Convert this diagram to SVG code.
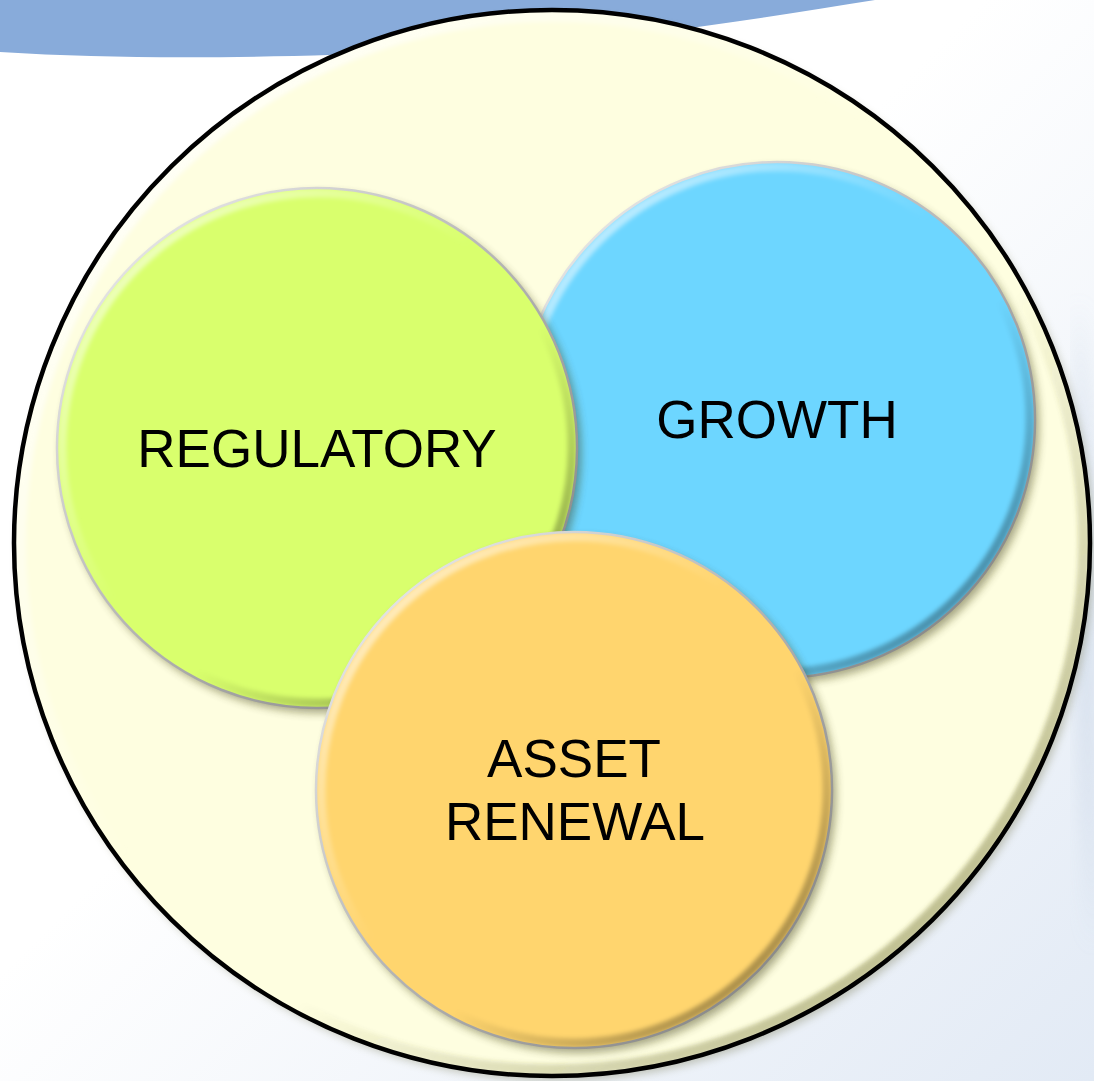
<svg xmlns="http://www.w3.org/2000/svg" width="1094" height="1081" viewBox="0 0 1094 1081">
  <style>
    .label { font-family: "Liberation Sans", Arial, sans-serif; font-size: 53px; fill: #000; text-anchor: middle; }
    .rim { fill: none; stroke-width: 2.5; }
  </style>
  <defs>
    <filter id="soft" x="-20%" y="-20%" width="140%" height="140%">
      <feGaussianBlur stdDeviation="4"/>
    </filter>
    <filter id="soft2" x="-20%" y="-20%" width="140%" height="140%">
      <feGaussianBlur stdDeviation="2"/>
    </filter>
    <filter id="haze" x="-50%" y="-50%" width="200%" height="200%">
      <feGaussianBlur stdDeviation="10"/>
    </filter>
    <!-- bevel: light top-left, dark bottom-right -->
    <linearGradient id="bevel" x1="0" y1="0" x2="1" y2="1">
      <stop offset="0" stop-color="#ffffff" stop-opacity="0.75"/>
      <stop offset="0.45" stop-color="#ffffff" stop-opacity="0"/>
      <stop offset="0.6" stop-color="#000000" stop-opacity="0"/>
      <stop offset="1" stop-color="#000000" stop-opacity="0.5"/>
    </linearGradient>
    <linearGradient id="rimGrad" x1="0" y1="0" x2="1" y2="1">
      <stop offset="0" stop-color="#f4f4f4"/>
      <stop offset="0.5" stop-color="#b4b4b4"/>
      <stop offset="1" stop-color="#7a7a7a"/>
    </linearGradient>
    <linearGradient id="outerBevel" x1="0" y1="0" x2="1" y2="1">
      <stop offset="0" stop-color="#ffffff" stop-opacity="1"/>
      <stop offset="0.45" stop-color="#ffffff" stop-opacity="0"/>
      <stop offset="0.6" stop-color="#6b6b2a" stop-opacity="0"/>
      <stop offset="1" stop-color="#6b6b2a" stop-opacity="0.65"/>
    </linearGradient>
    <linearGradient id="bgRight" x1="0" y1="0" x2="1" y2="1">
      <stop offset="0.45" stop-color="#ffffff"/>
      <stop offset="1" stop-color="#e2eaf5"/>
    </linearGradient>
    <clipPath id="clipG"><circle cx="317" cy="448" r="260"/></clipPath>
    <clipPath id="clipB"><circle cx="777" cy="420" r="258"/></clipPath>
    <clipPath id="clipO"><circle cx="574" cy="790" r="258"/></clipPath>
    <clipPath id="clipOuter"><ellipse cx="552" cy="543" rx="538" ry="533"/></clipPath>
  </defs>

  <!-- backdrop -->
  <rect width="1094" height="1081" fill="url(#bgRight)"/>
  <path d="M1078 300 C1092 420 1094 600 1094 700 L1094 950 C1086 860 1080 760 1078 640 Z" fill="#c9d6e6" filter="url(#haze)" opacity="0.8"/>
  <path d="M0 0 L875 0 C750 20 600 45 420 52 C260 58 130 60 0 52 Z" fill="#88abda"/>

  <!-- outer container -->
  <g id="container">
    <ellipse cx="556" cy="548" rx="538" ry="533" fill="#6b6b40" opacity="0.35" filter="url(#soft)"/>
    <ellipse cx="552" cy="543" rx="538" ry="533" fill="#fefee0"/>
    <ellipse cx="552" cy="543" rx="532" ry="527" fill="none" stroke="url(#outerBevel)" stroke-width="12" filter="url(#soft2)" clip-path="url(#clipOuter)"/>
    <ellipse cx="552" cy="543" rx="538" ry="533" fill="none" stroke="#000" stroke-width="4.5"/>
  </g>

  <!-- growth -->
  <g id="node-growth">
    <circle cx="781" cy="425" r="258" fill="#3a3a10" opacity="0.45" filter="url(#soft)"/>
    <circle cx="777" cy="420" r="258" fill="#6dd6ff"/>
    <circle cx="777" cy="420" r="253" fill="none" stroke="url(#bevel)" stroke-width="9" filter="url(#soft2)" clip-path="url(#clipB)"/>
    <circle class="rim" cx="777" cy="420" r="258" stroke="url(#rimGrad)"/>
    <text class="label" x="777" y="438">GROWTH</text>
  </g>

  <!-- regulatory -->
  <g id="node-regulatory">
    <circle cx="321" cy="453" r="260" fill="#3a3a10" opacity="0.45" filter="url(#soft)"/>
    <circle cx="317" cy="448" r="260" fill="#d9ff6d"/>
    <circle cx="317" cy="448" r="255" fill="none" stroke="url(#bevel)" stroke-width="9" filter="url(#soft2)" clip-path="url(#clipG)"/>
    <circle class="rim" cx="317" cy="448" r="260" stroke="url(#rimGrad)"/>
    <text class="label" x="317" y="467">REGULATORY</text>
  </g>

  <!-- asset renewal -->
  <g id="node-asset-renewal">
    <circle cx="578" cy="795" r="258" fill="#3a3a10" opacity="0.45" filter="url(#soft)"/>
    <circle cx="574" cy="790" r="258" fill="#ffd56e"/>
    <circle cx="574" cy="790" r="253" fill="none" stroke="url(#bevel)" stroke-width="9" filter="url(#soft2)" clip-path="url(#clipO)"/>
    <circle class="rim" cx="574" cy="790" r="258" stroke="url(#rimGrad)"/>
    <text class="label" x="574" y="777">ASSET</text>
    <text class="label" x="575" y="840">RENEWAL</text>
  </g>

  <g id="connectors"/>
</svg>
